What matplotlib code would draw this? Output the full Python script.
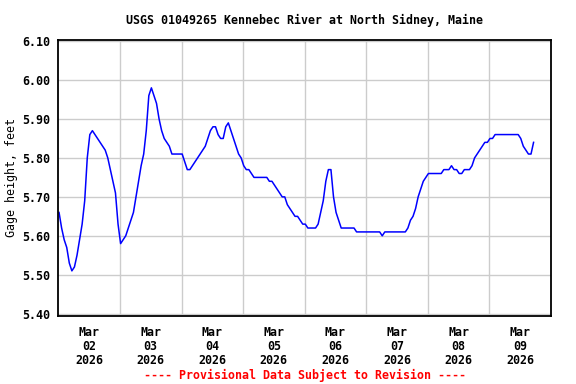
import numpy as np
import pandas as pd
import matplotlib
matplotlib.use("Agg")
import matplotlib.pyplot as plt

# hourly gage height readings (feet), starting Mar 02 2026 00:15
gage_ft = [
    5.66, 5.62, 5.59, 5.57, 5.53, 5.51, 5.52, 5.55, 5.59, 5.63,
    5.69, 5.80, 5.86, 5.87, 5.86, 5.85, 5.84, 5.83, 5.82, 5.80,
    5.77, 5.74, 5.71, 5.63, 5.58, 5.59, 5.60, 5.62, 5.64, 5.66,
    5.70, 5.74, 5.78, 5.81, 5.87, 5.96, 5.98, 5.96, 5.94, 5.90,
    5.87, 5.85, 5.84, 5.83, 5.81, 5.81, 5.81, 5.81, 5.81, 5.79,
    5.77, 5.77, 5.78, 5.79, 5.80, 5.81, 5.82, 5.83, 5.85, 5.87,
    5.88, 5.88, 5.86, 5.85, 5.85, 5.88, 5.89, 5.87, 5.85, 5.83,
    5.81, 5.80, 5.78, 5.77, 5.77, 5.76, 5.75, 5.75, 5.75, 5.75,
    5.75, 5.75, 5.74, 5.74, 5.73, 5.72, 5.71, 5.70, 5.70, 5.68,
    5.67, 5.66, 5.65, 5.65, 5.64, 5.63, 5.63, 5.62, 5.62, 5.62,
    5.62, 5.63, 5.66, 5.69, 5.74, 5.77, 5.77, 5.70, 5.66, 5.64,
    5.62, 5.62, 5.62, 5.62, 5.62, 5.62, 5.61, 5.61, 5.61, 5.61,
    5.61, 5.61, 5.61, 5.61, 5.61, 5.61, 5.60, 5.61, 5.61, 5.61,
    5.61, 5.61, 5.61, 5.61, 5.61, 5.61, 5.62, 5.64, 5.65, 5.67,
    5.70, 5.72, 5.74, 5.75, 5.76, 5.76, 5.76, 5.76, 5.76, 5.76,
    5.77, 5.77, 5.77, 5.78, 5.77, 5.77, 5.76, 5.76, 5.77, 5.77,
    5.77, 5.78, 5.80, 5.81, 5.82, 5.83, 5.84, 5.84, 5.85, 5.85,
    5.86, 5.86, 5.86, 5.86, 5.86, 5.86, 5.86, 5.86, 5.86, 5.86,
    5.85, 5.83, 5.82, 5.81, 5.81, 5.84,
]
times = pd.date_range("2026-03-02 00:15", periods=len(gage_ft), freq="h")

y_ticks = [5.40, 5.50, 5.60, 5.70, 5.80, 5.90, 6.00, 6.10]
day_labels = ["Mar\n02\n2026", "Mar\n03\n2026", "Mar\n04\n2026", "Mar\n05\n2026",
              "Mar\n06\n2026", "Mar\n07\n2026", "Mar\n08\n2026", "Mar\n09\n2026"]

plt.rcParams["font.family"] = "DejaVu Sans Mono"
plt.rcParams["font.weight"] = "bold"
plt.rcParams["font.size"] = 8.4

fig = plt.figure(figsize=(5.76, 3.84), dpi=100)
ax = fig.add_axes([0.1014, 0.177, 0.855, 0.72])

ax.plot(times, gage_ft, color="#0000ff", lw=1.1)

start = pd.Timestamp("2026-03-02")
ax.set_xlim(start, start + pd.Timedelta(days=8))
ax.set_ylim(5.394, 6.104)

ax.set_yticks(y_ticks)
ax.set_yticklabels(["%.2f" % v for v in y_ticks])

midnights = [start + pd.Timedelta(days=d) for d in range(1, 8)]
ax.set_xticks(midnights)
ax.set_xticklabels([])
noons = [start + pd.Timedelta(days=d, hours=12) for d in range(8)]
ax.set_xticks(noons, minor=True)
ax.set_xticklabels(day_labels, minor=True, linespacing=1.1)

ax.tick_params(axis="both", which="both", length=0)
ax.tick_params(axis="y", pad=6)
ax.tick_params(axis="x", which="minor", pad=7)

ax.grid(True, which="major", color="#cccccc", lw=1.0)
ax.set_axisbelow(True)
for s in ax.spines.values():
    s.set_linewidth(1.3)

ax.set_ylabel("Gage height, feet", labelpad=3)
# title and footer centred over the plot area
ax.text(0.5, 1.045, "USGS 01049265 Kennebec River at North Sidney, Maine",
        transform=ax.transAxes, ha="center", va="bottom")
fig.text(0.5288, 0.023, "---- Provisional Data Subject to Revision ----",
         ha="center", va="center", color="#ff0000")

fig.savefig("out.png", dpi=100)
